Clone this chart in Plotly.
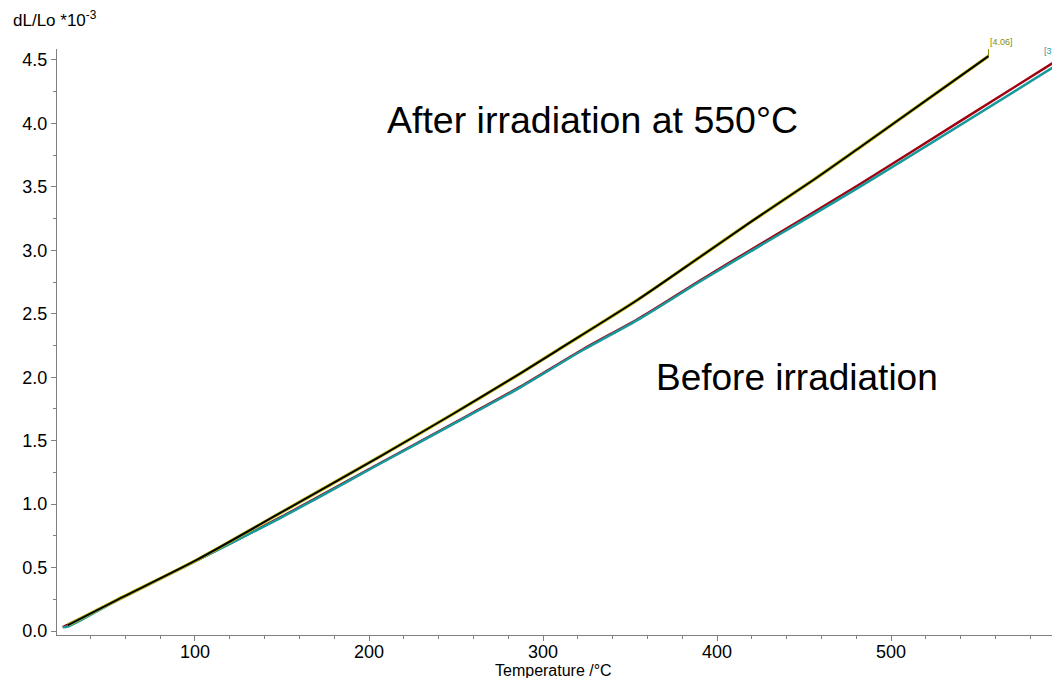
import plotly.graph_objects as go

# After irradiation (black curve with yellow halo)
after_T = [27, 55, 101, 149, 206, 247, 287, 308, 354, 390, 419, 456, 482, 556]
after_dL = [0.047, 0.244, 0.56, 0.93, 1.373, 1.70, 2.03, 2.21, 2.606, 2.945, 3.22, 3.56, 3.81, 4.53]

# Before irradiation (teal curve)
before_T = [24, 27, 55, 101, 149, 168, 206, 247, 287, 323, 356, 390, 419, 482, 597]
before_dL = [0.03, 0.035, 0.24, 0.555, 0.89, 1.03, 1.316, 1.62, 1.92, 2.214, 2.464, 2.752, 2.989, 3.50, 4.474]

# Before irradiation (red curve, slightly above teal)
red_T = [24, 55, 101, 149, 206, 247, 287, 323, 356, 390, 419, 482, 540, 597]
red_dL = [0.03, 0.24, 0.557, 0.895, 1.32, 1.625, 1.925, 2.22, 2.47, 2.76, 3.0, 3.52, 4.02, 4.51]

x_ticks = [100, 200, 300, 400, 500]
y_ticks = [0.0, 0.5, 1.0, 1.5, 2.0, 2.5, 3.0, 3.5, 4.0, 4.5]

FONT = "Liberation Sans, Arial, sans-serif"

fig = go.Figure()
spl = dict(shape="spline", smoothing=0.8)
fig.add_trace(go.Scatter(x=red_T, y=red_dL, mode="lines",
                         line=dict(color="#a0000f", width=2.5, **spl), hoverinfo="skip"))
fig.add_trace(go.Scatter(x=before_T, y=before_dL, mode="lines",
                         line=dict(color="#17989c", width=2.5, **spl), hoverinfo="skip"))
fig.add_trace(go.Scatter(x=after_T, y=after_dL, mode="lines",
                         line=dict(color="#c8c41a", width=3.5, **spl), hoverinfo="skip"))
fig.add_trace(go.Scatter(x=after_T, y=after_dL, mode="lines",
                         line=dict(color="#000000", width=2, **spl), hoverinfo="skip"))

axis_common = dict(showgrid=False, zeroline=False, showline=True, linecolor="#808080",
                   linewidth=1, ticks="outside", tickcolor="#808080", ticklen=5,
                   automargin=False,
                   tickfont=dict(family=FONT, size=18, color="#000000"))

fig.update_xaxes(range=[20.7, 597.1], tickvals=x_ticks, ticktext=[str(v) for v in x_ticks],
                 minor=dict(dtick=20, tick0=0, ticks="outside", ticklen=3, tickcolor="#808080"),
                 ticklabelstandoff=-5,
                 **axis_common)
fig.update_yaxes(range=[-0.0315, 4.586], tickvals=y_ticks, ticktext=[f"{v:.1f}" for v in y_ticks],
                 minor=dict(dtick=0.25, tick0=0, ticks="outside", ticklen=3, tickcolor="#808080"),
                 **axis_common)

# the page body adds an 8px offset; margins compensate for it
fig.update_layout(
    width=1060, height=678,
    margin=dict(l=49, r=8, t=41, b=51, autoexpand=False),
    plot_bgcolor="white", paper_bgcolor="white",
    showlegend=False,
    font=dict(family=FONT, color="#000"),
    annotations=[
        dict(text="dL/Lo *10<sup>-3</sup>", xref="paper", yref="paper", x=-0.0455, y=1.052,
             xanchor="left", yanchor="middle", showarrow=False,
             font=dict(family=FONT, size=17, color="#000")),
        dict(text="Temperature /°C", xref="paper", yref="paper", x=0.495, y=-0.06,
             xanchor="center", yanchor="middle", showarrow=False,
             font=dict(family=FONT, size=16, color="#000")),
        dict(text="After irradiation at 550°C", x=328.7, y=4.03, xanchor="center", yanchor="middle",
             showarrow=False, font=dict(family=FONT, size=37.5, color="#000")),
        dict(text="Before irradiation", x=446, y=2.0, xanchor="center", yanchor="middle",
             showarrow=False, font=dict(family=FONT, size=37, color="#000")),
        dict(text="[4.06]", x=after_T[-1], y=after_dL[-1], xanchor="left", yanchor="bottom",
             ax=0, ay=-7, showarrow=True, arrowhead=0, arrowwidth=1, arrowcolor="#8a8a00",
             font=dict(family=FONT, size=9, color="#8a8a00")),
        dict(text="[3.05]", xref="paper", yref="paper", x=0.9825, y=0.985,
             xanchor="left", yanchor="bottom", showarrow=False,
             font=dict(family=FONT, size=9, color="#2aa0a0")),
    ],
)

fig.write_html("out.html")
